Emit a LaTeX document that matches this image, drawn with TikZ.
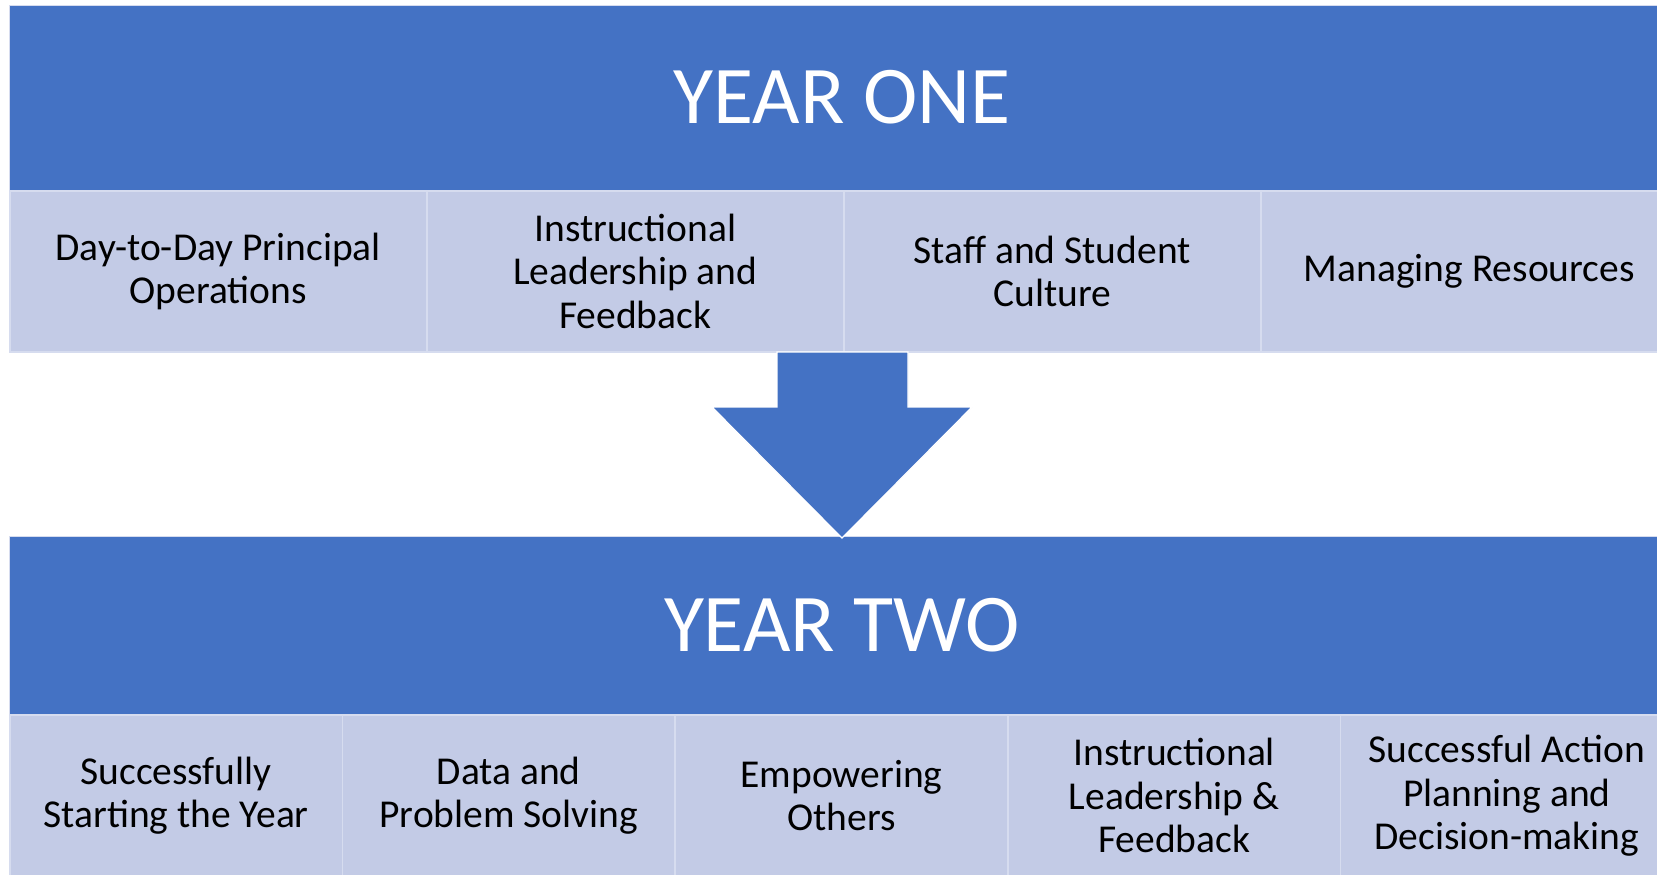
\documentclass[tikz,border=0pt]{standalone}
\usepackage{fontspec}
\setmainfont{Carlito}
\definecolor{blueband}{HTML}{4472C4}
\definecolor{cellfill}{HTML}{C3CBE6}
\definecolor{cellline}{HTML}{D6DCEF}
\tikzset{
  band/.style={fill=blueband, draw=cellline, line width=0.8pt, anchor=north west,
    inner sep=0pt, text=white, font=\fontsize{82}{90}\selectfont},
  cellbox/.style={fill=cellfill, draw=cellline, line width=1.5pt, anchor=north west,
    inner sep=0pt, align=center, text=black, font=\fontsize{39.5}{43.5}\selectfont},
  topcell/.style={cellbox, minimum width=417pt, minimum height=161pt},
  botcell/.style={cellbox, minimum width=332.7pt, minimum height=162pt},
}
\begin{document}
\begin{tikzpicture}[x=1pt,y=-1pt]
\useasboundingbox (0,0) rectangle (1657,875);
\clip (0,0) rectangle (1657,875);
\fill[white] (0,0) rectangle (1657,875);
% Year one
\node[band, minimum width=1670pt, minimum height=185pt] (y1) at (9,5) {};
\node[text=white, font=\fontsize{82}{90}\selectfont] (y1t) at (842,97) {YEAR ONE};
\node[topcell] (a1) at (9,190) {Day-to-Day Principal\\Operations};
\node[topcell] (a2) at (426,190) {Instructional\\Leadership and\\Feedback};
\node[topcell] (a3) at (843,190) {Staff and Student\\Culture};
\node[topcell] (a4) at (1260,190) {Managing Resources};
% Year two
\node[band, minimum width=1670pt, minimum height=178pt] (y2) at (9,536) {};
\node[text=white, font=\fontsize{82}{90}\selectfont] (y2t) at (842,625) {YEAR TWO};
\node[botcell] (b1) at (9,714) {Successfully\\Starting the Year};
\node[botcell] (b2) at (341.7,714) {Data and\\Problem Solving};
\node[botcell] (b3) at (674.4,714) {Empowering\\Others};
\node[botcell] (b4) at (1007.1,714) {Instructional\\Leadership \&\\Feedback};
\node[botcell] (b5) at (1339.8,714) {Successful Action\\Planning and\\Decision-making};
% Arrow
\filldraw[fill=blueband, draw=white, line width=1.2pt, line join=miter]
  (777,352) -- (908,352) -- (908,407) -- (972,407) -- (842,538) -- (712,407) -- (777,407) -- cycle;
\end{tikzpicture}
\end{document}
